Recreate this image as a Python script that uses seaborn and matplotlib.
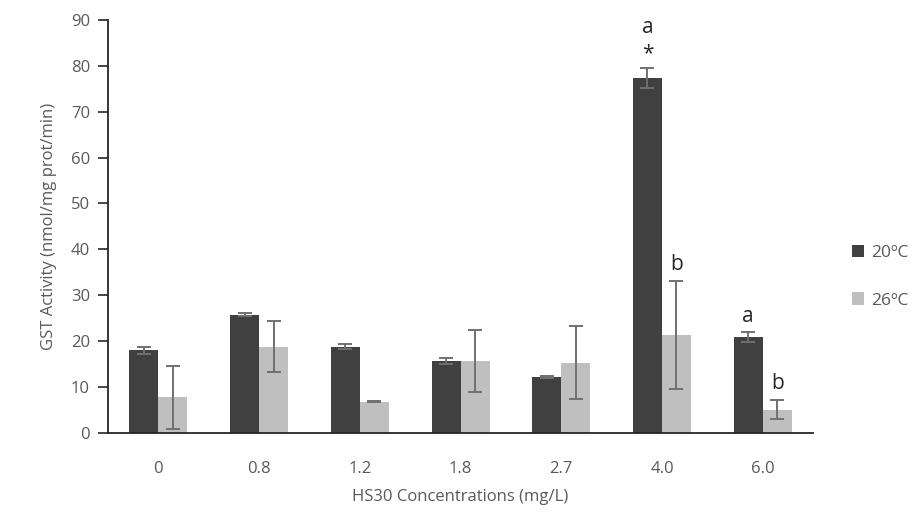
import matplotlib
matplotlib.use("Agg")
import matplotlib.pyplot as plt
import seaborn as sns
import pandas as pd
import numpy as np

categories = ["0", "0.8", "1.2", "1.8", "2.7", "4.0", "6.0"]
series_names = ["20ºC", "26ºC"]
vals_20 = [18.0, 25.8, 18.8, 15.7, 12.2, 77.3, 20.9]
err_20 = [0.7, 0.3, 0.6, 0.6, 0.2, 2.2, 1.0]
vals_26 = [7.8, 18.8, 6.8, 15.7, 15.3, 21.3, 5.1]
err_26 = [6.9, 5.5, 0.1, 6.8, 8.0, 11.8, 2.0]
# annotations: (category index, series index, text)
annots = [(5, 0, "a"), (5, 0, "*"), (5, 1, "b"), (6, 0, "a"), (6, 1, "b")]

sns.set_theme(style="white")
plt.rcParams['font.family'] = ['Open Sans', 'DejaVu Sans']

df = pd.DataFrame({
    "cat": categories * 2,
    "series": [series_names[0]] * len(categories) + [series_names[1]] * len(categories),
    "val": vals_20 + vals_26,
})

fig = plt.figure(figsize=(9.24, 5.17), dpi=100)
ax = fig.add_axes([0.1169, 0.1625, 0.763, 0.799])
colors = ["#404040", "#bfbfbf"]
sns.barplot(data=df, x="cat", y="val", hue="series", order=categories,
            hue_order=series_names, palette=colors, width=0.576,
            saturation=1, errorbar=None, ax=ax, legend=True, linewidth=0)

bar_conts = list(ax.containers)
errs = [err_20, err_26]
vals = [vals_20, vals_26]
for si, cont in enumerate(bar_conts):
    xs = [p.get_x() + p.get_width() / 2 for p in cont.patches]
    ax.errorbar(xs, vals[si], yerr=errs[si], fmt="none", ecolor="#707070",
                elinewidth=1.4, capsize=5, capthick=1.4, zorder=5)

# annotation letters
for ci, si, txt in annots:
    p = bar_conts[si].patches[ci]
    x = p.get_x() + p.get_width() / 2
    top = vals[si][ci] + errs[si][ci]
    if txt == "*":
        y = top + 0.8
    elif ci == 5 and si == 0:
        y = top + 6.6
    else:
        y = top + 1.3
    ax.text(x, y, txt, ha="center", va="bottom", fontsize=15, color="#262626")

ax.set_ylim(0, 90)
ax.set_xlim(-0.5, 6.5)
ax.set_yticks(range(0, 91, 10))
ax.tick_params(axis="y", which="both", left=True, length=7, width=1.2,
               color="#262626", labelsize=12, labelcolor="#595959", pad=6)
ax.tick_params(axis="x", bottom=False, labelsize=12, labelcolor="#595959", pad=14)
for side in ["top", "right"]:
    ax.spines[side].set_visible(False)
ax.spines["left"].set_color("#262626")
ax.spines["bottom"].set_color("#262626")
ax.spines["left"].set_linewidth(1.3)
ax.spines["bottom"].set_linewidth(1.3)
ax.set_xlabel("HS30 Concentrations (mg/L)", fontsize=12, color="#595959", labelpad=9)
ax.set_ylabel("GST Activity (nmol/mg prot/min)", fontsize=12, color="#595959", labelpad=10)

leg = ax.legend(loc="center left", bbox_to_anchor=(1.033, 0.378), frameon=False,
                fontsize=12.5, handlelength=0.7, handleheight=0.7, handletextpad=0.4,
                labelspacing=1.8)
for t in leg.get_texts():
    t.set_color("#595959")

fig.savefig("out.png", dpi=100)
